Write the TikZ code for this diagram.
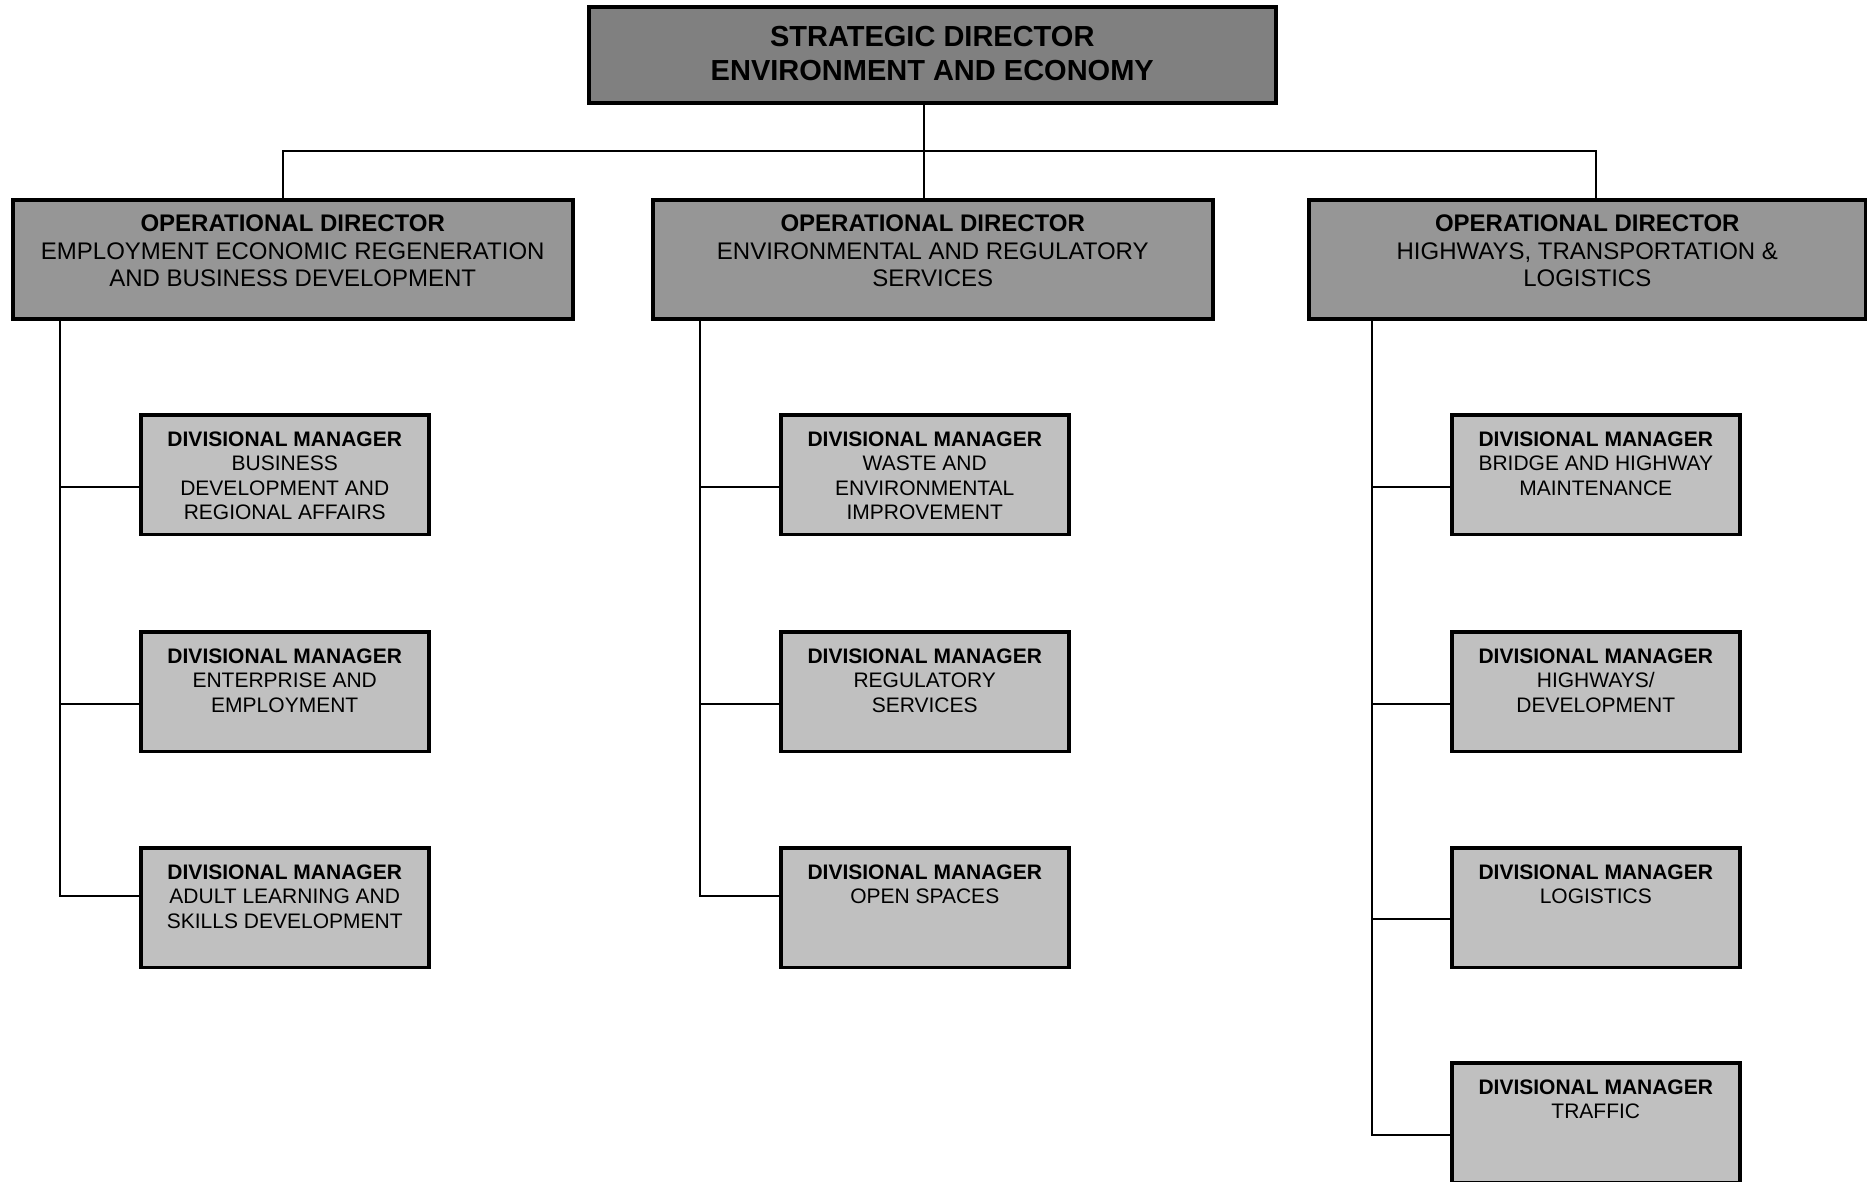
\documentclass[tikz,border=0pt]{standalone}
\usepackage{fontspec}
\setmainfont{Liberation Sans}
\definecolor{topfill}{HTML}{808080}
\definecolor{opfill}{HTML}{969696}
\definecolor{divfill}{HTML}{C0C0C0}
\begin{document}
\begin{tikzpicture}[x=1pt,y=-1pt,
  box/.style={draw=black, line width=3.5pt, rectangle, inner sep=0pt, anchor=north west},
  topbox/.style={box, fill=topfill, minimum width=687pt, minimum height=96pt},
  opbox/.style={box, fill=opfill, minimum width=560pt, minimum height=119pt},
  divbox/.style={box, fill=divfill, minimum width=288pt, minimum height=119.5pt},
  toptext/.style={anchor=north, align=center, inner sep=0pt, font=\fontsize{29}{34.5}\selectfont\bfseries},
  optext/.style={anchor=north, align=center, inner sep=0pt, font=\fontsize{24}{27.5}\selectfont},
  divtext/.style={anchor=north, align=center, inner sep=0pt, font=\fontsize{21}{24.5}\selectfont},
  link/.style={line width=1.5pt}
]
\useasboundingbox[fill=white] (0,0) rectangle (1867,1181);

% top
\node[topbox] (top) at (587,5) {};
\node[toptext] (toptx) at ([yshift=-21pt]top.north) {STRATEGIC DIRECTOR\\ENVIRONMENT AND ECONOMY};

% operational directors
\node[opbox] (op1) at (11,198) {};
\node[opbox] (op2) at (651,198) {};
\node[opbox, minimum width=557pt] (op3) at (1307,198) {};
\node[optext] (op1tx) at ([yshift=-17pt]op1.north) {{\bfseries OPERATIONAL DIRECTOR}\\EMPLOYMENT ECONOMIC REGENERATION\\AND BUSINESS DEVELOPMENT};
\node[optext] (op2tx) at ([yshift=-17pt]op2.north) {{\bfseries OPERATIONAL DIRECTOR}\\ENVIRONMENTAL AND REGULATORY\\SERVICES};
\node[optext] (op3tx) at ([yshift=-17pt]op3.north) {{\bfseries OPERATIONAL DIRECTOR}\\HIGHWAYS, TRANSPORTATION \&\\LOGISTICS};

% divisional managers column 1
\node[divbox] (d11) at (139,413) {};
\node[divbox] (d12) at (139,630) {};
\node[divbox] (d13) at (139,846) {};
\node[divtext] (d11tx) at ([yshift=-18.5pt]d11.north) {{\bfseries DIVISIONAL MANAGER}\\BUSINESS\\DEVELOPMENT AND\\REGIONAL AFFAIRS};
\node[divtext] (d12tx) at ([yshift=-18.5pt]d12.north) {{\bfseries DIVISIONAL MANAGER}\\ENTERPRISE AND\\EMPLOYMENT};
\node[divtext] (d13tx) at ([yshift=-18.5pt]d13.north) {{\bfseries DIVISIONAL MANAGER}\\ADULT LEARNING AND\\SKILLS DEVELOPMENT};

% column 2
\node[divbox] (d21) at (779,413) {};
\node[divbox] (d22) at (779,630) {};
\node[divbox] (d23) at (779,846) {};
\node[divtext] (d21tx) at ([yshift=-18.5pt]d21.north) {{\bfseries DIVISIONAL MANAGER}\\WASTE AND\\ENVIRONMENTAL\\IMPROVEMENT};
\node[divtext] (d22tx) at ([yshift=-18.5pt]d22.north) {{\bfseries DIVISIONAL MANAGER}\\REGULATORY\\SERVICES};
\node[divtext] (d23tx) at ([yshift=-18.5pt]d23.north) {{\bfseries DIVISIONAL MANAGER}\\OPEN SPACES};

% column 3
\node[divbox] (d31) at (1450,413) {};
\node[divbox] (d32) at (1450,630) {};
\node[divbox] (d33) at (1450,846) {};
\node[divbox] (d34) at (1450,1061) {};
\node[divtext] (d31tx) at ([yshift=-18.5pt]d31.north) {{\bfseries DIVISIONAL MANAGER}\\BRIDGE AND HIGHWAY\\MAINTENANCE};
\node[divtext] (d32tx) at ([yshift=-18.5pt]d32.north) {{\bfseries DIVISIONAL MANAGER}\\HIGHWAYS/\\DEVELOPMENT};
\node[divtext] (d33tx) at ([yshift=-18.5pt]d33.north) {{\bfseries DIVISIONAL MANAGER}\\LOGISTICS};
\node[divtext] (d34tx) at ([yshift=-18.5pt]d34.north) {{\bfseries DIVISIONAL MANAGER}\\TRAFFIC};

% top connectors
\coordinate (bus) at (924,151);
\coordinate (busL) at (283,151);
\coordinate (busR) at (1596,151);
\draw[link] (top.south -| bus) -- (bus);
\draw[link] (op1.north -| busL) -- (busL) -- (busR) -- (op3.north -| busR);
\draw[link] (bus) -- (op2.north -| bus);

% spines
\coordinate (s1a) at (60,487);
\coordinate (s1b) at (60,704);
\coordinate (s1c) at (60,896);
\draw[link] (op1.south -| s1c) -- (s1c) -- (d13.west |- s1c);
\draw[link] (s1a) -- (d11.west |- s1a);
\draw[link] (s1b) -- (d12.west |- s1b);

\coordinate (s2a) at (700,487);
\coordinate (s2b) at (700,704);
\coordinate (s2c) at (700,896);
\draw[link] (op2.south -| s2c) -- (s2c) -- (d23.west |- s2c);
\draw[link] (s2a) -- (d21.west |- s2a);
\draw[link] (s2b) -- (d22.west |- s2b);

\coordinate (s3a) at (1372,487);
\coordinate (s3b) at (1372,704);
\coordinate (s3c) at (1372,919);
\coordinate (s3d) at (1372,1135);
\draw[link] (op3.south -| s3d) -- (s3d) -- (d34.west |- s3d);
\draw[link] (s3a) -- (d31.west |- s3a);
\draw[link] (s3b) -- (d32.west |- s3b);
\draw[link] (s3c) -- (d33.west |- s3c);
\end{tikzpicture}
\end{document}
